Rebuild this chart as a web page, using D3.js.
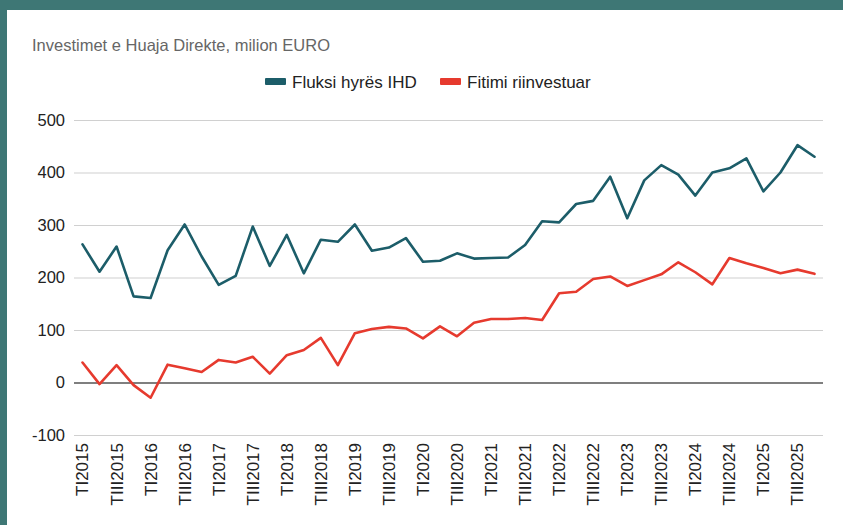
<!DOCTYPE html>
<html>
<head>
<meta charset="utf-8">
<script src="https://cdn.jsdelivr.net/npm/d3@7"></script>
<style>
  html, body { margin: 0; padding: 0; background: #3e7775; }
  svg { display: block; }
  text { font-family: "Liberation Sans", Arial, sans-serif; }
</style>
</head>
<body>
<svg id="chart" width="843" height="525"></svg>
<script>
const title = "Investimet e Huaja Direkte, milion EURO";
const seriesNames = ["Fluksi hyrës IHD", "Fitimi riinvestuar"];
const seriesColors = ["#1c5d69", "#e63a2e"];
const categories = [
  "TI2015","TII2015","TIII2015","TIV2015",
  "TI2016","TII2016","TIII2016","TIV2016",
  "TI2017","TII2017","TIII2017","TIV2017",
  "TI2018","TII2018","TIII2018","TIV2018",
  "TI2019","TII2019","TIII2019","TIV2019",
  "TI2020","TII2020","TIII2020","TIV2020",
  "TI2021","TII2021","TIII2021","TIV2021",
  "TI2022","TII2022","TIII2022","TIV2022",
  "TI2023","TII2023","TIII2023","TIV2023",
  "TI2024","TII2024","TIII2024","TIV2024",
  "TI2025","TII2025","TIII2025","TIV2025"
];
const fluksi = [
  263, 211, 259, 164, 161, 252, 301, 240,
  186, 203, 297, 222, 281, 208, 272, 268,
  301, 251, 257, 275, 230, 232, 246, 236,
  237, 238, 262, 307, 305, 340, 346, 392,
  313, 385, 414, 396, 356, 400, 408, 427,
  364, 400, 452, 430
];
const fitimi = [
  38, -3, 33, -5, -29, 34, 27, 20,
  43, 38, 49, 17, 52, 62, 85, 33,
  94, 102, 106, 103, 84, 107, 88, 114,
  121, 121, 123, 119, 170, 173, 197, 202,
  184, 195, 206, 229, 210, 187, 237, 227,
  218, 208, 215, 207
];
const yTicks = [-100, 0, 100, 200, 300, 400, 500];

(function () {
const svg = d3.select("#chart");
svg.append("rect").attr("x", 7).attr("y", 10).attr("width", 836).attr("height", 515).attr("fill", "#ffffff");

const mLeft = 74, mRight = 823, mTop = 120, mBottom = 435;
const x = d3.scaleBand().domain(categories).range([mLeft, mRight]).padding(0);
const y = d3.scaleLinear().domain([-100, 500]).range([mBottom, mTop]);

svg.append("text").attr("x", 32).attr("y", 51)
  .attr("font-size", 16.5).attr("fill", "#666666").text(title);

const legend = svg.append("g");
const legendItems = [
  {name: seriesNames[0], color: seriesColors[0], x: 265},
  {name: seriesNames[1], color: seriesColors[1], x: 440}
];
legendItems.forEach(it => {
  legend.append("rect").attr("x", it.x).attr("y", 78).attr("width", 21).attr("height", 7)
    .attr("rx", 1).attr("fill", it.color);
  legend.append("text").attr("x", it.x + 27).attr("y", 88)
    .attr("font-size", 17).attr("fill", "#222222").text(it.name);
});

const yAxis = d3.axisLeft(y).tickValues(yTicks).tickSize(-(mRight - mLeft)).tickPadding(9).tickFormat(d => String(d));
const gy = svg.append("g").attr("transform", `translate(${mLeft},0)`).call(yAxis);
gy.select(".domain").remove();
gy.selectAll(".tick line").attr("stroke", d => d === 0 ? "#555555" : "#d0d0d0")
  .attr("stroke-width", d => d === 0 ? 1.6 : 1.2);
gy.selectAll(".tick text").attr("font-size", 16.5).attr("fill", "#222222")
  .style("font-family", '"Liberation Sans", Arial, sans-serif');

const xAxis = d3.axisBottom(x).tickValues(categories.filter((c, i) => i % 2 === 0)).tickSize(0).tickPadding(0);
const gx = svg.append("g").attr("transform", `translate(0,${mBottom})`).call(xAxis);
gx.select(".domain").remove();
gx.selectAll(".tick text")
  .attr("font-size", 17).attr("fill", "#222222")
  .style("font-family", '"Liberation Sans", Arial, sans-serif')
  .attr("transform", "rotate(-90)")
  .attr("text-anchor", "end")
  .attr("x", -8).attr("y", 0).attr("dy", "0.35em");

const line = d3.line().x((d, i) => x(categories[i]) + x.bandwidth() / 2).y(d => y(d)).curve(d3.curveLinear);
[fluksi, fitimi].forEach((s, k) => {
  svg.append("path").datum(s).attr("d", line).attr("fill", "none")
    .attr("stroke", seriesColors[k]).attr("stroke-width", 2.6)
    .attr("stroke-linejoin", "round").attr("stroke-linecap", "round");
});
})();
</script>
</body>
</html>
